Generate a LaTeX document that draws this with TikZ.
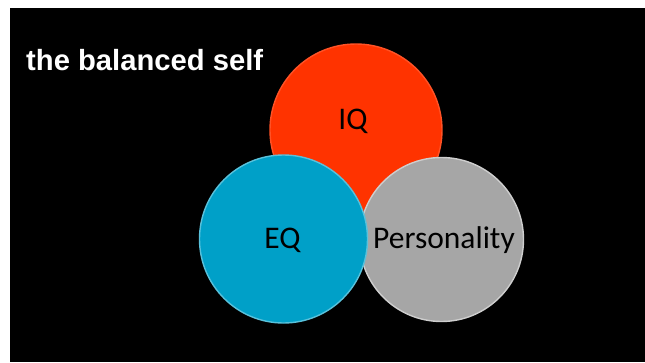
\documentclass[tikz,border=0pt]{standalone}
\usepackage{fontspec}
\setmainfont{Carlito}
\newfontfamily\headfont{Liberation Sans}
\usetikzlibrary{positioning}

\definecolor{iqred}{RGB}{255,51,0}
\definecolor{eqblue}{RGB}{0,160,200}
\definecolor{pgray}{RGB}{166,166,166}

\tikzset{
    disc/.style ={circle, minimum size=#1pt, inner sep=0pt, line width=1.4pt},
    word/.style ={anchor=base, inner sep=0pt, text=black, font=\fontsize{31.5}{31.5}\selectfont},
    heading/.style={anchor=base west, inner sep=0pt, text=white, font=\headfont\bfseries\fontsize{29.2}{29.2}\selectfont}
}

\begin{document}
\begin{tikzpicture}[x=1pt,y=-1pt]
    \useasboundingbox (0,0) rectangle (645,362);
    \fill[white] (0,0) rectangle (645,362);
    \fill[black] (10,8) rectangle (645,362);

    \node[heading] (title) at (26,70.5) {the balanced self};

    % the discs, blue last so it sits on top
    \node[disc=172, fill=iqred, draw=iqred!85!white] (iq) at (356,130) {};
    \node[disc=164, fill=pgray, draw=pgray!55!white] (pers) at (441.5,239.5) {};
    \node[disc=168, fill=eqblue, draw=eqblue!65!white] (eq) at (283.5,239) {};

    \node[word] (iqtext) at (353,129) {IQ};
    \node[word] (eqtext) at (282.5,248) {EQ};
    \node[word] (perstext) at (444,248) {Personality};

\end{tikzpicture}
\end{document}
